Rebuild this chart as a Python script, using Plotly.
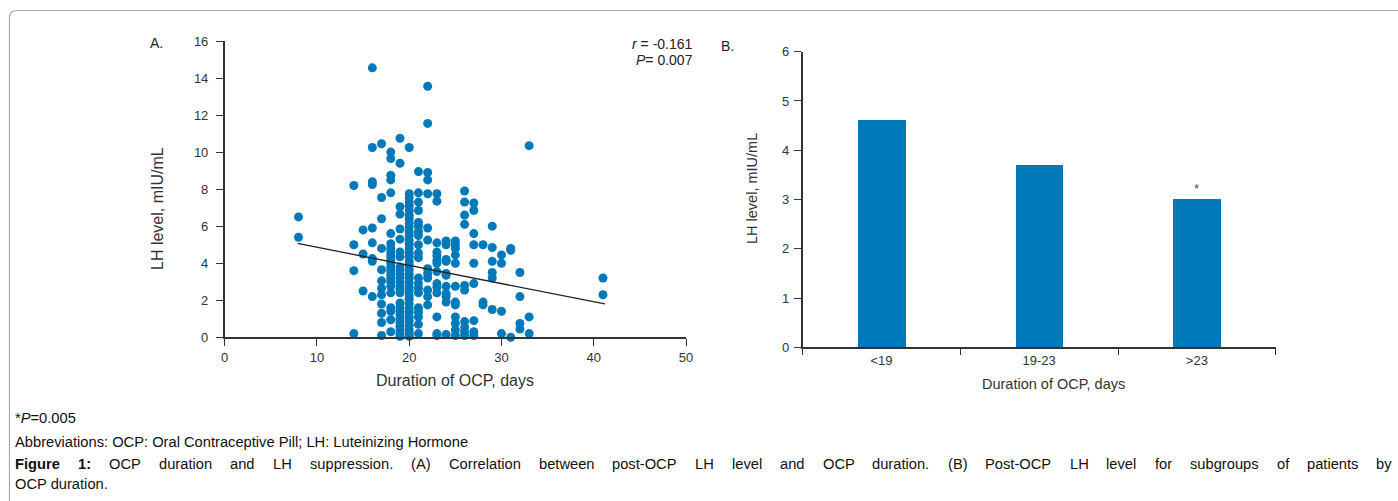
import plotly.graph_objects as go

# ---------------- Panel A data ----------------
scatter_days = [8, 14, 15, 16, 17, 18, 19, 20, 21, 22, 23, 24, 25, 26, 27, 28, 29, 30, 31, 32, 33, 41]
lh_d08 = [6.5, 5.4]
lh_d14 = [8.2, 5.0, 3.6, 0.2]
lh_d15 = [5.8, 4.5, 2.5]
lh_d16 = [14.55, 10.25, 8.4, 8.25, 5.9, 5.1, 4.25, 4.1, 2.2]
lh_d17 = [10.45, 7.55, 6.4, 4.8, 3.65, 3.05, 2.65, 2.3, 1.8, 1.3, 0.8, 0.1]
lh_d18 = [10.0, 9.65, 8.75, 8.5, 7.8, 5.6, 5.05, 4.8, 4.6, 4.4, 4.2, 4.0, 3.8, 3.6, 3.4,
          3.2, 3.0, 2.75, 2.4, 1.6, 1.4, 0.95, 0.3]
lh_d19 = [10.75, 9.4, 7.05, 6.65, 5.85, 5.3, 4.6, 4.35, 3.8, 3.6, 3.4, 3.2, 3.0, 2.8, 2.6,
          2.4, 1.85, 1.6, 1.4, 1.2, 1.0, 0.8, 0.6, 0.4, 0.2, 0.05]
lh_d20 = [10.25, 7.75, 7.55, 7.3, 7.1, 6.85, 6.6, 6.4, 6.15, 5.95, 5.7, 5.5, 5.25, 5.05, 4.8,
          4.55, 4.35, 4.1, 3.9, 3.65, 3.4, 3.2, 2.95, 2.7, 2.5, 2.25, 2.05, 1.8, 1.55, 1.35,
          1.1, 0.9, 0.65, 0.4, 0.2, 0.05]
lh_d21 = [8.95, 7.8, 7.3, 6.85, 6.2, 6.0, 5.7, 5.5, 5.0, 4.55, 4.3, 3.2, 2.9, 2.65, 2.4,
          1.6, 1.35, 1.1, 0.7, 0.2]
lh_d22 = [13.55, 11.55, 8.9, 8.5, 7.75, 5.9, 5.25, 3.7, 3.45, 3.2, 2.55, 2.2, 1.75]
lh_d23 = [7.75, 7.35, 5.1, 4.6, 4.4, 4.15, 4.0, 3.55, 2.9, 2.7, 2.4, 1.1, 0.2, 0.1]
lh_d24 = [5.2, 5.0, 4.2, 4.1, 3.45, 3.35, 2.75, 2.35, 2.2, 1.9, 0.15]
lh_d25 = [5.2, 5.0, 4.8, 4.45, 4.0, 2.75, 1.9, 1.75, 1.1, 0.75, 0.4, 0.1]
lh_d26 = [7.9, 7.3, 6.6, 6.1, 2.8, 2.55, 0.85, 0.55, 0.3, 0.1]
lh_d27 = [7.25, 6.85, 5.6, 5.0, 4.0, 2.9, 0.9, 0.3, 0.1]
lh_d28 = [5.0, 1.9, 1.75]
lh_d29 = [6.0, 4.85, 4.1, 3.5, 3.2, 1.5]
lh_d30 = [4.45, 4.0, 1.4, 0.2]
lh_d31 = [4.8, 4.7, 0.0]
lh_d32 = [3.5, 2.2, 0.75, 0.45]
lh_d33 = [10.35, 1.1, 0.2]
lh_d41 = [3.2, 2.3]
lh_columns = [lh_d08, lh_d14, lh_d15, lh_d16, lh_d17, lh_d18, lh_d19, lh_d20, lh_d21, lh_d22,
              lh_d23, lh_d24, lh_d25, lh_d26, lh_d27, lh_d28, lh_d29, lh_d30, lh_d31, lh_d32,
              lh_d33, lh_d41]

fit_days = [7.9, 41.2]
fit_lh = [5.07, 1.8]

a_xticks = [0, 10, 20, 30, 40, 50]
a_yticks = [0, 2, 4, 6, 8, 10, 12, 14, 16]

# ---------------- Panel B data ----------------
bar_groups = ["<19", "19-23", ">23"]
bar_lh = [4.61, 3.70, 3.01]
bar_marks = ["", "", "*"]
b_yticks = [0, 1, 2, 3, 4, 5, 6]

# ---------------- build ----------------
W, H = 1398, 501
BLUE = "#0079BA"
AX = "#333333"
FONT = "Liberation Sans, Arial, sans-serif"


def px(x):
    return x / W


def py(y):
    return 1 - y / H


xs, ys = [], []
for d, col in zip(scatter_days, lh_columns):
    xs.extend([d] * len(col))
    ys.extend(col)

fig = go.Figure()
fig.add_trace(go.Scatter(x=xs, y=ys, mode="markers", xaxis="x", yaxis="y",
                         marker=dict(color=BLUE, size=9, line=dict(width=0)),
                         cliponaxis=False, showlegend=False, hoverinfo="skip"))
fig.add_trace(go.Scatter(x=fit_days, y=fit_lh, mode="lines", xaxis="x", yaxis="y",
                         line=dict(color="#222222", width=1.3), showlegend=False,
                         cliponaxis=False, hoverinfo="skip"))
fig.add_trace(go.Bar(x=bar_groups, y=bar_lh, xaxis="x2", yaxis="y2", width=0.304,
                     marker=dict(color=BLUE, line=dict(width=0)),
                     text=bar_marks, textposition="outside", cliponaxis=False,
                     textfont=dict(size=12, color="#444444", family=FONT),
                     showlegend=False, hoverinfo="skip"))

common_axis = dict(showline=True, linecolor=AX, linewidth=1.5, ticks="outside",
                   tickcolor=AX, tickwidth=1.3, showgrid=False, zeroline=False,
                   automargin=False,
                   tickfont=dict(size=13, color="#333333", family=FONT))

fig.update_layout(
    template="none",
    width=W, height=H, autosize=False,
    margin=dict(l=0, r=0, t=0, b=0, pad=0),
    paper_bgcolor="white", plot_bgcolor="white",
    font=dict(family=FONT, color="#333333"),
    bargap=0, showlegend=False,
    xaxis=dict(domain=[px(224.7), px(686)], range=[0, 50], tickvals=a_xticks,
               ticklen=7, anchor="y", **common_axis),
    yaxis=dict(domain=[py(337.3), py(41)], range=[0, 16], tickvals=a_yticks,
               ticklen=7, ticklabelstandoff=5, anchor="x", **common_axis),
    xaxis2=dict(domain=[px(802.7), px(1275.7)], range=[-0.5, 2.5], type="category",
                tickson="boundaries", ticklen=6, anchor="y2", **common_axis),
    yaxis2=dict(domain=[py(347.3), py(51.7)], range=[0, 6], tickvals=b_yticks,
                ticklen=7, ticklabelstandoff=2, anchor="x2", **common_axis),
)

ann = []
# panel letters
ann.append(dict(text="A.", x=px(148), y=py(43), xanchor="left", yanchor="middle",
                font=dict(size=14, color="#222222")))
ann.append(dict(text="B.", x=px(719), y=py(46), xanchor="left", yanchor="middle",
                font=dict(size=14, color="#222222")))
# axis titles
ann.append(dict(text="LH level, mIU/mL", x=px(158), y=py(209), textangle=-90,
                xanchor="center", yanchor="middle", font=dict(size=16, color="#333333")))
ann.append(dict(text="Duration of OCP, days", x=px(455), y=py(380),
                xanchor="center", yanchor="middle", font=dict(size=16, color="#333333")))
ann.append(dict(text="LH level, mIU/mL", x=px(752), y=py(189), textangle=-90,
                xanchor="center", yanchor="middle", font=dict(size=14.5, color="#333333")))
ann.append(dict(text="Duration of OCP, days", x=px(1053), y=py(384),
                xanchor="center", yanchor="middle", font=dict(size=14.5, color="#333333")))
# stats
ann.append(dict(text="<i>r</i> = -0.161", x=px(695), y=py(44), xanchor="right",
                yanchor="middle", font=dict(size=14, color="#222222")))
ann.append(dict(text="<i>P</i>= 0.007", x=px(695), y=py(60.5), xanchor="right",
                yanchor="middle", font=dict(size=14, color="#222222")))

# footer
FOOT_SIZE = 14.7
FOOT_COLOR = "#111111"
foot_left = [
    ("*<i>P</i>=0.005", 418),
    ("Abbreviations: OCP: Oral Contraceptive Pill; LH: Luteinizing Hormone", 442),
    ("OCP duration.", 484),
]
for t, yy in foot_left:
    ann.append(dict(text=t, x=px(13), y=py(yy), xanchor="left", yanchor="middle",
                    font=dict(size=FOOT_SIZE, color=FOOT_COLOR)))

# justified caption line (word positions spread between left and right text edges)
ARIAL = {" ": 278, "(": 333, ")": 333, ",": 278, "-": 333, ".": 278, ":": 278, "1": 556,
         "A": 667, "B": 667, "C": 722, "H": 722, "L": 556, "O": 778, "P": 667, "S": 667,
         "F": 611}
LOWER = {"a": 556, "b": 556, "c": 500, "d": 556, "e": 556, "f": 278, "g": 556, "h": 556,
         "i": 222, "j": 222, "k": 500, "l": 222, "m": 833, "n": 556, "o": 556, "p": 556,
         "q": 556, "r": 333, "s": 500, "t": 278, "u": 556, "v": 500, "w": 722, "x": 500,
         "y": 500, "z": 500}
ARIAL.update(LOWER)
BOLD = {"F": 611, "i": 278, "g": 611, "u": 611, "r": 389, "e": 556, "1": 556, ":": 333}


def text_w(s, table):
    return sum(table.get(ch, 556) for ch in s) * FOOT_SIZE / 1000.0


caption_words = [("Figure", True), ("1:", True)] + [
    (w, False) for w in ("OCP duration and LH suppression. (A) Correlation between post-OCP "
                         "LH level and OCP duration. (B) Post-OCP LH level for subgroups of "
                         "patients by").split(" ")]
left_edge, right_edge = 13, 1390
widths = [text_w(w, BOLD if b else ARIAL) for w, b in caption_words]
gap = (right_edge - left_edge - sum(widths)) / (len(caption_words) - 1)
cx = left_edge
for (w, b), wd in zip(caption_words, widths):
    ann.append(dict(text=f"<b>{w}</b>" if b else w, x=px(cx), y=py(464), xanchor="left",
                    yanchor="middle", font=dict(size=FOOT_SIZE, color=FOOT_COLOR)))
    cx += wd + gap

for a in ann:
    a.update(xref="paper", yref="paper", showarrow=False)
fig.update_layout(annotations=ann)

# rounded frame (left and top edges visible), kept inside the figure area
path = (f"M {px(9.5)},{py(501)} L {px(9.5)},{py(18)} Q {px(9.5)},{py(10.5)} {px(17)},{py(10.5)} "
        f"L {px(1398)},{py(10.5)}")
fig.add_shape(type="path", path=path, xref="paper", yref="paper",
              line=dict(color="#A8A8A8", width=1.2))

fig.write_html("out.html", config={"displayModeBar": False},
               post_script="document.body.style.margin='0px';"
                           "document.body.style.overflow='hidden';")
